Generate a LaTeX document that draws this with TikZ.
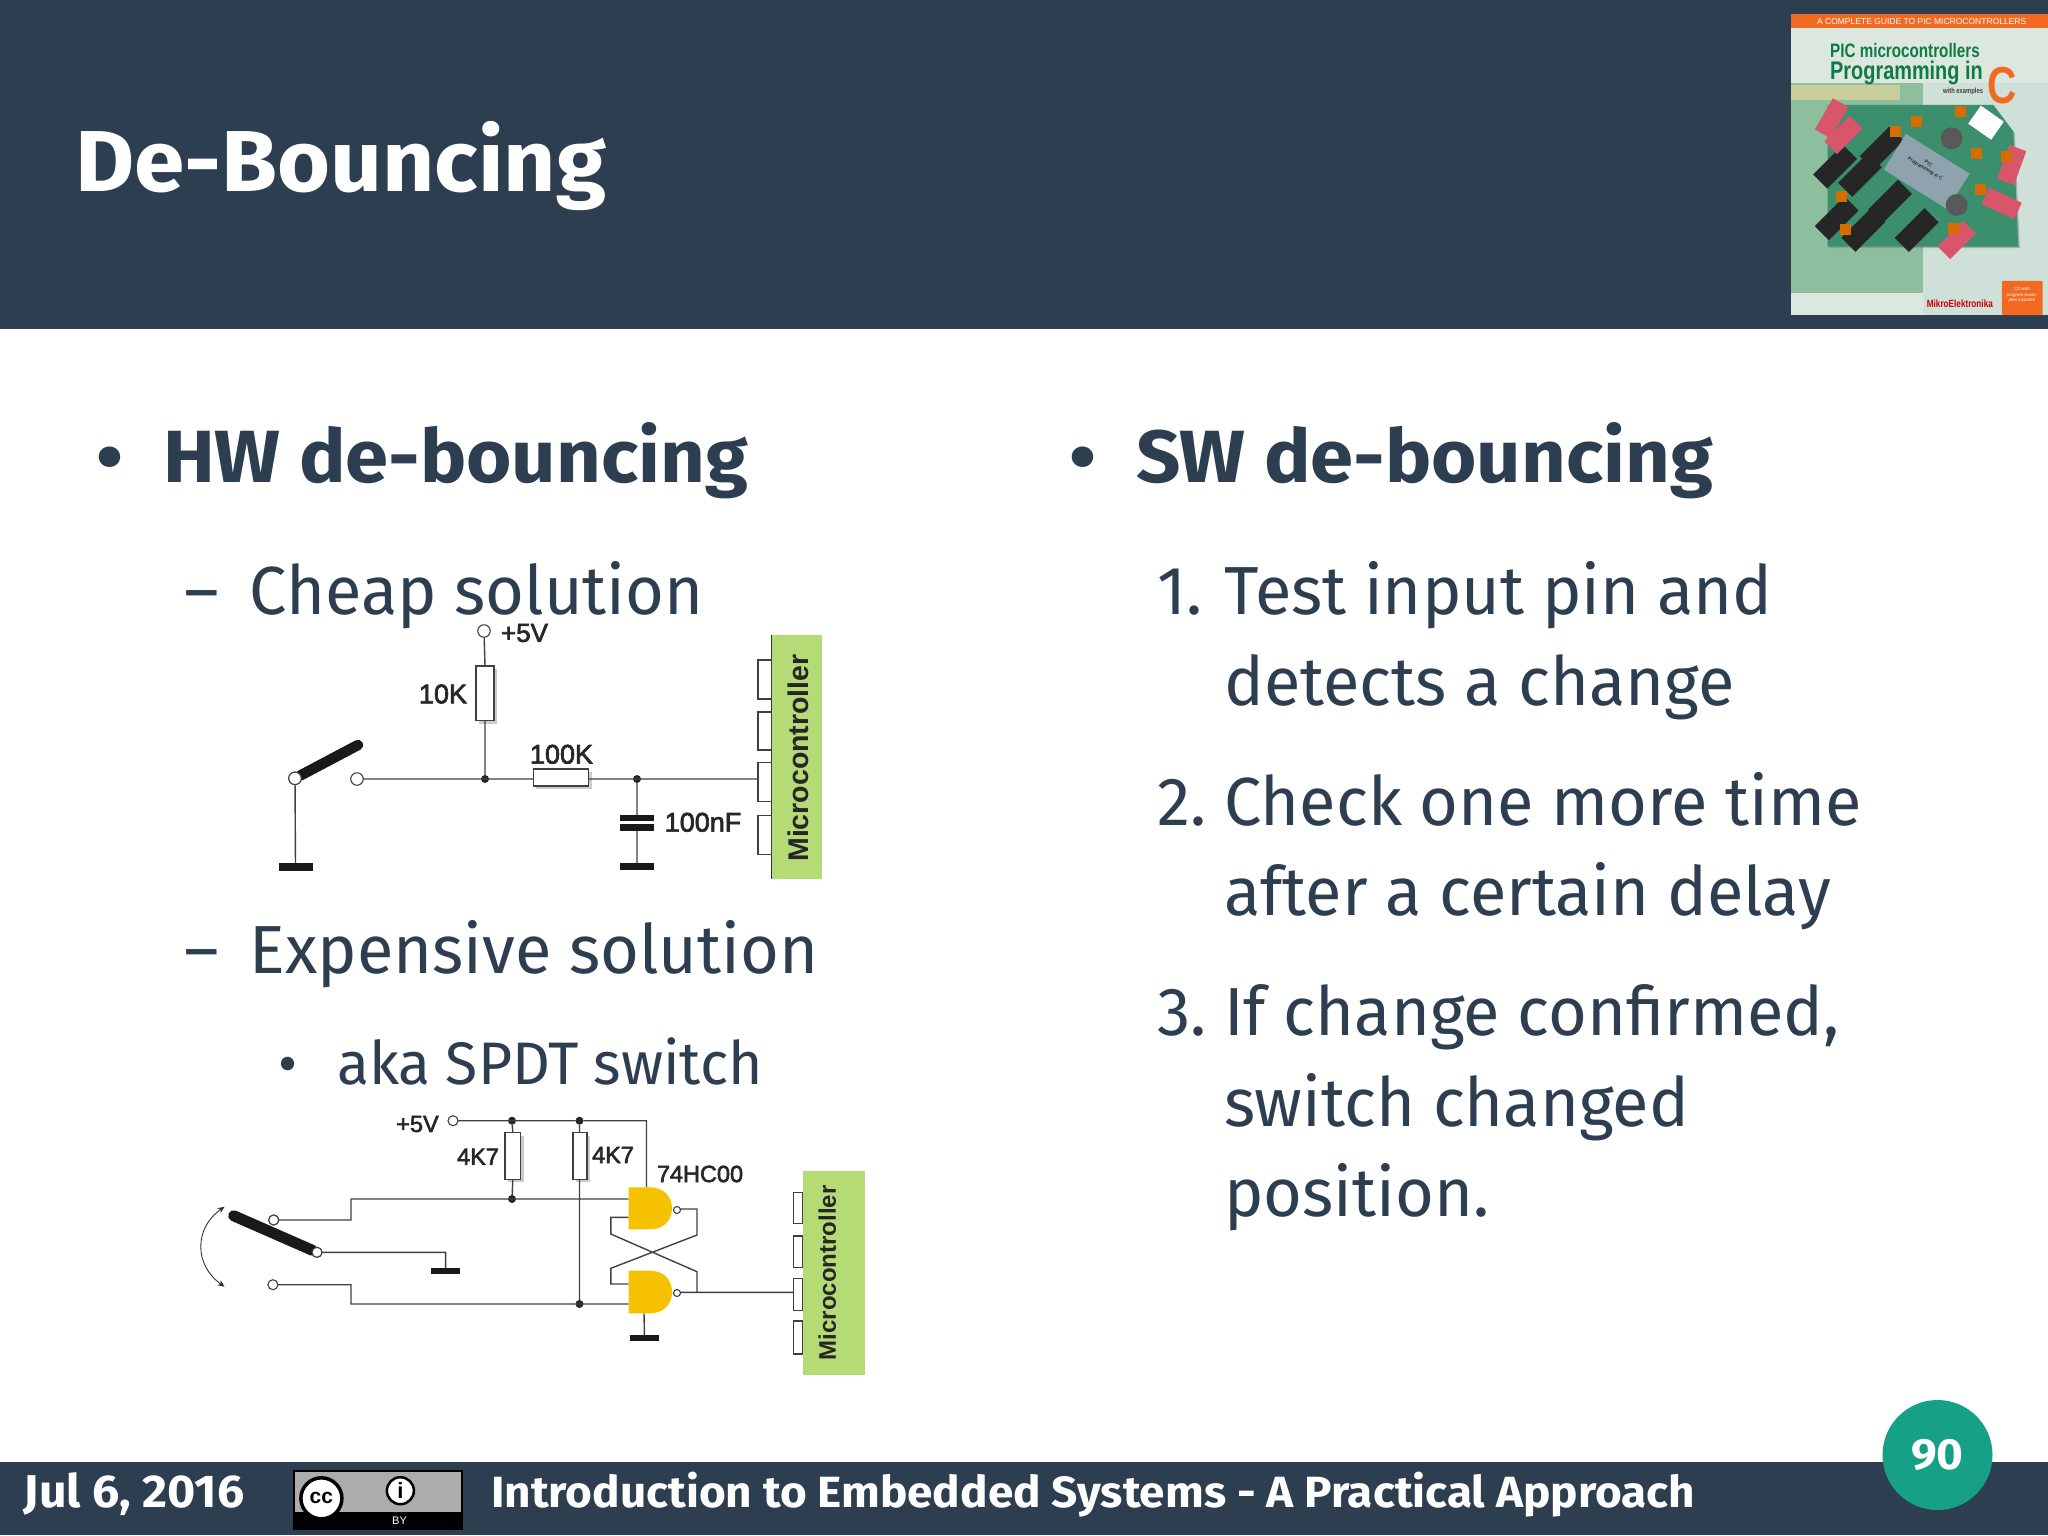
\documentclass[tikz,border=0pt]{standalone}
\usepackage{fontspec}
\usetikzlibrary{shadows,arrows.meta}
\newfontfamily\slidefont{Fira Sans}[FakeStretch=0.98]
\newfontfamily\slidebold{Fira Sans}[FakeStretch=1.05,UprightFont={* Bold}]
\newfontfamily\partfont{Liberation Sans}[FakeBold=2.5]
\newfontfamily\partbold{Liberation Sans}[UprightFont={* Bold}]
\newfontfamily\coverfont{Liberation Sans}[FakeStretch=0.78,UprightFont={* Bold}]
\newfontfamily\plainfont{Liberation Sans}
\definecolor{navy}{HTML}{2C3E50}
\definecolor{teal}{HTML}{16A085}
\definecolor{mcugreen}{HTML}{B5DB77}
\definecolor{gateyellow}{HTML}{F6C200}
\definecolor{wiregray}{HTML}{404040}
\definecolor{coverorange}{HTML}{F26A21}
\definecolor{covergreen}{HTML}{0F7A42}
\definecolor{coverpale}{HTML}{DCE7E0}
\definecolor{coverside}{HTML}{CFE0D8}
\definecolor{coverblock}{HTML}{8DBF9F}
\definecolor{coverband}{HTML}{C9CE9A}
\definecolor{pcb}{HTML}{3C8F6C}
\definecolor{lcdgray}{HTML}{8FA3AE}
\definecolor{dipred}{HTML}{D9566A}
\begin{document}
\begin{tikzpicture}[x=1pt,y=-1pt,
  headline/.style={anchor=base west,inner sep=0,text=navy,font=\slidebold\fontsize{74}{78}\selectfont},
  subline/.style={anchor=base west,inner sep=0,text=navy,font=\slidefont\fontsize{68}{72}\selectfont},
  subsubline/.style={anchor=base west,inner sep=0,text=navy,font=\slidefont\fontsize{60}{64}\selectfont},
  footline/.style={anchor=base west,inner sep=0,text=white,font=\slidebold\fontsize{43.7}{46}\selectfont},
  part label/.style={inner sep=0,text=black!85,font=\partfont\fontsize{27}{30}\selectfont},
  small label/.style={inner sep=0,text=black!85,font=\partfont\fontsize{23.5}{26}\selectfont},
  resistor/.style={rectangle,draw=wiregray,fill=white,line width=1.2pt,inner sep=0,outer sep=0,
    drop shadow={opacity=.4,shadow xshift=3pt,shadow yshift=-3pt}},
  mcu/.style={rectangle,fill=mcugreen,inner sep=0,outer sep=0},
  pin/.style={rectangle,draw=wiregray,fill=white,line width=1.1pt,inner sep=0,outer sep=0},
  terminal/.style={circle,draw=wiregray,fill=white,line width=1.1pt,inner sep=0,outer sep=0,minimum size=10pt},
  junction/.style={circle,fill=black!85,inner sep=0,outer sep=0,minimum size=8pt},
  ground/.style={rectangle,fill=black!90,inner sep=0,outer sep=0},
  wire/.style={draw=wiregray,line width=1.4pt},
  nand body/.style={fill=gateyellow},
  chip/.style={rectangle,fill=black!85,inner sep=0,outer sep=0},
  dip/.style={rectangle,fill=dipred,inner sep=0,outer sep=0},
  jumper/.style={rectangle,fill=orange!85!black,inner sep=0,outer sep=0,minimum width=11,minimum height=11}]

  \useasboundingbox (0,0) rectangle (2048,1535);

  % bars
  \fill[navy] (0,0) rectangle (2048,329);
  \fill[navy] (0,1462) rectangle (2048,1535);

  \node[anchor=base west,inner sep=0,text=white,font=\slidebold\fontsize{86.5}{90}\selectfont] (title) at (75,191) {De-Bouncing};

  % book cover
  \begin{scope}[shift={(1780,0)},x=.3333pt,y=-.3333pt]
    \fill[coverpale] (32,42) rectangle (803,945);
    \fill[coverside] (428,250) rectangle (803,945);
    \fill[coverblock] (32,250) rectangle (428,880);
    \fill[coverband] (32,255) rectangle (360,300);
    \fill[coverorange] (32,42) rectangle (803,85);
    \node[inner sep=0,text=white,font=\plainfont\fontsize{8.5}{9}\selectfont] (guide) at (425,66) {A COMPLETE GUIDE TO PIC MICROCONTROLLERS};
    \node[anchor=west,inner sep=0,text=covergreen,font=\coverfont\fontsize{19.5}{21}\selectfont] (covera) at (150,152) {PIC microcontrollers};
    \node[anchor=west,inner sep=0,text=covergreen,font=\coverfont\fontsize{25.5}{26}\selectfont] (coverb) at (150,218) {Programming in};
    \node[anchor=east,inner sep=0,text=black!75,font=\coverfont\fontsize{7.5}{8}\selectfont] (coverc) at (610,274) {with examples};
    \node[inner sep=0,text=coverorange,font=\coverfont\fontsize{52}{52}\selectfont] (coverd) at (667,257) {C};
    \fill[pcb,drop shadow={opacity=.5,shadow xshift=1.5pt,shadow yshift=-1.5pt}] (143,315) -- (640,315) -- (700,395) -- (715,740) -- (143,740) -- cycle;
    \foreach \cx/\cy/\ca in {240/525/45,330/605/45,410/690/45,250/690/45,165/500/45,170/655/45,305/445/45}
      \node[chip,minimum width=42,minimum height=20,rotate=\ca] at (\cx,\cy) {};
    \node[rectangle,fill=lcdgray,inner sep=0,minimum width=75,minimum height=42,rotate=-32] (lcd) at (440,515) {};
    \node[rotate=-32,inner sep=0,text=black,align=center,font=\plainfont\fontsize{5}{6}\selectfont] (lcdtext) at (440,500) {PIC\\Programming in C};
    \foreach \cx/\cy/\ca in {190/405/45,665/610/-25,530/720/45,155/355/60,695/495/70}
      \node[dip,minimum width=36,minimum height=18,rotate=\ca] at (\cx,\cy) {};
    \foreach \cx/\cy in {345/395,410/365,540/335,590/460,600/570,185/590,520/685,195/690,680/470}
      \node[jumper] at (\cx,\cy) {};
    \foreach \cx/\cy in {515/415,530/615}
      \node[circle,fill=black!65,inner sep=0,minimum size=22] at (\cx,\cy) {};
    \node[rectangle,fill=white,inner sep=0,minimum width=28,minimum height=22,rotate=-35] (plug) at (618,368) {};
    \node[rectangle,fill=coverorange,rounded corners=1pt,inner sep=0,minimum width=40.7,minimum height=34.3,anchor=north west] (cdbox) at (665,842) {};
    \node[inner sep=0,align=center,text=white,font=\plainfont\itshape\fontsize{4.5}{5.5}\selectfont] (cdtext) at (726,885) {CD with\\program exam-\\ples included};
    \node[anchor=west,inner sep=0,text=red!80!black,font=\coverfont\fontsize{10.5}{11}\selectfont] (mikro) at (440,910) {MikroElektronika};
  \end{scope}

  % left column
  \node[headline] (bulA) at (96,482) {•};
  \node[headline] (hw) at (163,482) {HW de-bouncing};
  \node[subline] (dashA) at (184,614) {–};
  \node[subline] (cheap) at (249.5,614) {Cheap solution};
  \node[subline] (dashB) at (184,973) {–};
  \node[subline] (expensive) at (249.5,973) {Expensive solution};
  \node[subsubline] (bulB) at (278,1084) {•};
  \node[subsubline] (aka) at (337,1084) {aka SPDT switch};

  % right column
  \node[headline] (bulC) at (1069,482) {•};
  \node[headline] (sw) at (1136,482) {SW de-bouncing};
  \node[subline] (numA) at (1157,614) {1.};
  \node[subline] (lineA) at (1224,614) {Test input pin and};
  \node[subline] (lineB) at (1224,705) {detects a change};
  \node[subline] (numB) at (1157,825) {2.};
  \node[subline] (lineC) at (1224,825) {Check one more time};
  \node[subline] (lineD) at (1224,915) {after a certain delay};
  \node[subline] (numC) at (1157,1035) {3.};
  \node[subline] (lineE) at (1224,1035) {If change confirmed,};
  \node[subline] (lineF) at (1224,1126) {switch changed};
  \node[subline] (lineG) at (1224,1216) {position.};

  % cheap circuit
  \node[mcu,minimum width=50.4,minimum height=244] (mcuA) at (797,757) {};
  \draw[black!80,line width=1.2pt] (mcuA.north west) -- (mcuA.south west);
  \node[rotate=90,inner sep=0,text=black!85,font=\partbold\fontsize{28.5}{30}\selectfont] (mcuAtext) at (798,758) {Microcontroller};
  \node[pin,minimum width=13.6,minimum height=39] (pinA) at (764.8,679.5) {};
  \node[pin,minimum width=13.6,minimum height=38] (pinB) at (764.8,731) {};
  \node[pin,minimum width=13.6,minimum height=39] (pinC) at (764.8,782) {};
  \node[pin,minimum width=13.6,minimum height=38.6] (pinD) at (764.8,835) {};

  \node[terminal,minimum size=12.5pt] (vccA) at (484,631) {};
  \node[part label,font=\partfont\fontsize{26}{28}\selectfont] (vccAtext) at (524.5,633) {+5V};
  \node[resistor,minimum width=18,minimum height=54.7] (rten) at (485,693.4) {};
  \node[part label] (rtentext) at (443,694) {10K};
  \node[junction] (nodeA) at (485,779) {};
  \node[resistor,minimum width=55.5,minimum height=17] (rhund) at (561,777.5) {};
  \node[part label] (rhundtext) at (561.5,754.3) {100K};
  \node[junction] (nodeB) at (637,779) {};
  \node[terminal,minimum size=12.5pt] (pivotA) at (295,778.3) {};
  \node[terminal,minimum size=12.5pt] (contactA) at (357,779) {};
  \coordinate (tipA) at (358,745);
  \node[ground,minimum width=34,minimum height=7.7] (gndA) at (295.5,867) {};
  \node[ground,minimum width=34.4,minimum height=7] (gndB) at (637,866.5) {};
  \node[ground,minimum width=34.4,minimum height=6] (plateA) at (637,818) {};
  \node[ground,minimum width=34.4,minimum height=6.7] (plateB) at (637,827.5) {};
  \node[part label] (captext) at (703,822.3) {100nF};

  \path[wire]
  (vccA) -- (rten.north)
  (rten.south) -- (nodeA)
  (contactA) -- (rhund.west |- contactA)
  (rhund.east |- contactA) -- (pinC.west |- contactA)
  (nodeB) -- (plateA)
  (plateB) -- (gndB)
  (pivotA) -- (gndA);
  \draw[line width=10.5pt,line cap=round,black!90] (pivotA) -- (tipA);
  \node[terminal,minimum size=12.5pt] at (pivotA) {};

  % expensive circuit
  \node[mcu,minimum width=62.2,minimum height=204] (mcuB) at (834,1273) {};
  \node[rotate=90,inner sep=0,text=black!85,font=\partbold\fontsize{24}{26}\selectfont] (mcuBtext) at (827.3,1272.7) {Microcontroller};
  \node[pin,minimum width=9.8,minimum height=31.7] (pinE) at (798,1208) {};
  \node[pin,minimum width=9.8,minimum height=31.3] (pinF) at (798,1251.6) {};
  \node[pin,minimum width=9.8,minimum height=32.4] (pinG) at (798,1294.5) {};
  \node[pin,minimum width=9.8,minimum height=33] (pinH) at (798,1337.5) {};

  \node[small label] (vccBtext) at (417.5,1124) {+5V};
  \node[terminal] (vccB) at (453,1120.7) {};
  \node[junction] (topA) at (512,1120.7) {};
  \node[junction] (topB) at (579.5,1120.7) {};
  \coordinate (vccC) at (646.5,1187.3);
  \node[resistor,minimum width=15.6,minimum height=46.6] (rfourA) at (512.8,1156) {};
  \node[resistor,minimum width=14,minimum height=46.6] (rfourB) at (580,1156) {};
  \node[small label] (rfourAtext) at (478,1156.7) {4K7};
  \node[small label] (rfourBtext) at (613,1155) {4K7};
  \node[small label] (chiptext) at (700,1174) {74HC00};
  \node[junction] (botA) at (512,1199) {};
  \node[junction] (botB) at (579.5,1304) {};

  \node[terminal] (upper) at (273.7,1220) {};
  \node[terminal] (lower) at (272.9,1284.7) {};
  \node[terminal] (pivotB) at (317,1252.3) {};
  \coordinate (tipB) at (233.6,1215.7);
  \node[ground,minimum width=29,minimum height=5.7] (gndC) at (445.6,1270.8) {};
  \node[ground,minimum width=28.2,minimum height=5.7] (gndD) at (644.5,1337.8) {};

  % gates
  \coordinate (inAa) at (628.7,1199);
  \coordinate (inAb) at (628.7,1217.3);
  \coordinate (inBa) at (628.7,1284);
  \coordinate (inBb) at (628.7,1304);
  \coordinate (gndE) at (644,1313.3);
  \path[wire]
  (vccB) -- (topB) -- (646.5,1120.7) -- (vccC)
  (topA) -- (rfourA.north)
  (rfourA.south) -- (botA)
  (topB) -- (rfourB.north -| topB)
  (rfourB.south -| topB) -- (botB)
  (upper) -- (351,1220) -- (351,1199) -- (inAa)
  (lower) -- (351,1284.7) -- (351,1304) -- (inBb)
  (pivotB) -- (445.6,1252.3) -- (gndC)
  (inAb) -- (610.8,1217.3) -- (610.8,1234) -- (697,1271.7) -- (697,1292.3)
  (680,1209) -- (697,1209) -- (697,1235) -- (610.8,1268.3) -- (610.8,1284) -- (inBa)
  (680,1292.3) -- (pinG.west |- 680,1292.3)
  (gndE) -- (gndD);
  \fill[nand body] (628.7,1187.3) -- (650,1187.3) .. controls (664,1187.3) and (672,1197) .. (672,1208.3) .. controls (672,1220) and (664,1229.3) .. (650,1229.3) -- (628.7,1229.3) -- cycle;
  \fill[nand body] (628.7,1270.7) -- (650,1270.7) .. controls (664,1270.7) and (672,1280) .. (672,1292) .. controls (672,1304) and (664,1313.3) .. (650,1313.3) -- (628.7,1313.3) -- cycle;
  \node[terminal,minimum size=7pt] (bubA) at (677,1210) {};
  \node[terminal,minimum size=7pt] (bubB) at (677,1293) {};

  \draw[line width=11pt,line cap=round,black!90] (tipB) -- (pivotB);
  \node[terminal] at (pivotB) {};
  \node[terminal] at (upper) {};
  \draw[{Stealth[length=7pt,width=6pt]}-{Stealth[length=7pt,width=6pt]},line width=.9pt,black!80] (224.6,1206.7) .. controls (194,1228) and (194,1265) .. (224.6,1286.7);

  % footer
  \node[footline,font=\slidebold\fontsize{46}{48}\selectfont] (date) at (23.5,1507) {Jul 6, 2016};
  \node[footline] (course) at (491,1507) {Introduction to Embedded Systems - A Practical Approach};
  \node[rectangle,fill=black,inner sep=0,minimum width=170,minimum height=60.7,anchor=north west] (badge) at (292.4,1469.3) {};
  \fill[gray!65] (294.5,1471.5) rectangle (460.5,1511.7);
  \node[circle,draw=black,line width=3.5pt,fill=white,inner sep=0,minimum size=41pt,text=black,font=\partbold\fontsize{21}{22}\selectfont] (ccmark) at (321.4,1498.3) {cc};
  \node[circle,draw=black,line width=2.5pt,fill=white,inner sep=0,minimum size=27pt,text=black,font=\partbold\fontsize{22}{22}\selectfont] (bymark) at (400.4,1490.7) {i};
  \node[inner sep=0,text=white,font=\plainfont\fontsize{11}{12}\selectfont] (bytext) at (399.5,1521) {BY};
  \node[circle,fill=teal,inner sep=0,minimum size=110pt,text=white,font=\slidebold\fontsize{43.7}{46}\selectfont] (page) at (1937.5,1455) {90};

\end{tikzpicture}
\end{document}
